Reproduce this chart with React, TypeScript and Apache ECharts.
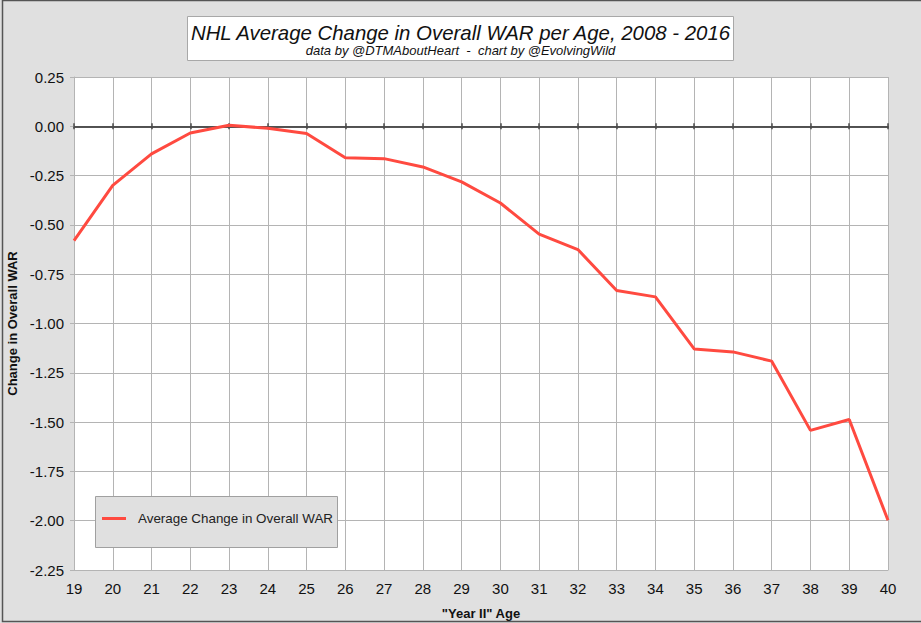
import React, { useEffect, useRef } from "react";
import * as echarts from "echarts";

const ages = ["19","20","21","22","23","24","25","26","27","28","29","30","31","32","33","34","35","36","37","38","39","40"];
const warChange = [-0.58,-0.30,-0.14,-0.034,0.005,-0.01,-0.037,-0.16,-0.164,-0.206,-0.282,-0.389,-0.547,-0.625,-0.833,-0.865,-1.129,-1.144,-1.191,-1.542,-1.487,-1.998];
const seriesName = "Average Change in Overall WAR";
const titleText = "NHL Average Change in Overall WAR per Age, 2008 - 2016";
const subtitleText = "data by @DTMAboutHeart  -  chart by @EvolvingWild";
const xName = '"Year II" Age';
const yName = "Change in Overall WAR";

const FONT = "'Liberation Sans', Arial, Helvetica, sans-serif";

export default function App() {
  const ref = useRef<HTMLDivElement>(null);
  useEffect(() => {
    if (!ref.current) return;
    const chart = echarts.init(ref.current, null, { renderer: "svg" });
    const zeroAxisBase = {
      type: "category",
      data: ages,
      boundaryGap: false,
      position: "bottom",
      axisLine: { show: true, onZero: true, onZeroAxisIndex: 0, lineStyle: { color: "#4a4a4a", width: 1.5 } },
      axisLabel: { show: false },
      splitLine: { show: false },
    };
    chart.setOption({
      animation: false,
      backgroundColor: "#e0e0e0",
      textStyle: { fontFamily: FONT },
      graphic: [
        { type: "rect", shape: { x: 2.5, y: 0.5, width: 930, height: 621 }, style: { fill: "none", stroke: "#555", lineWidth: 1.5 }, silent: true },
        { type: "rect", shape: { x: 187.5, y: 16.5, width: 546, height: 44 }, style: { fill: "#ffffff", stroke: "#a8a8a8", lineWidth: 1 }, silent: true },
        { type: "text", x: 460.5, y: 33, style: { text: titleText, fontFamily: FONT, fontSize: 20.4, fontStyle: "italic", fill: "#111", align: "center", verticalAlign: "middle" } },
        { type: "text", x: 460.5, y: 50, style: { text: subtitleText, fontFamily: FONT, fontSize: 13, fontStyle: "italic", fill: "#111", align: "center", verticalAlign: "middle" } },
        { type: "rect", shape: { x: 95.5, y: 496.5, width: 242, height: 51 }, style: { fill: "#e0e0e0", stroke: "#a0a0a0", lineWidth: 1 }, silent: true, z: 10 },
      ],
      legend: {
        show: true,
        left: 102,
        top: 512,
        padding: 0,
        z: 20,
        itemWidth: 24,
        itemHeight: 3,
        icon: "rect",
        data: [{ name: seriesName, icon: "rect" }],
        textStyle: { fontFamily: FONT, fontSize: 13.4, color: "#222", padding: [0, 0, 0, 7] },
      },
      grid: { show: true, backgroundColor: "#ffffff", borderWidth: 0, left: 74, top: 77, right: 33, bottom: 53, containLabel: false, outerBoundsMode: "none" },
      xAxis: [
        {
          type: "category",
          data: ages,
          boundaryGap: false,
          position: "bottom",
          name: xName,
          nameLocation: "middle",
          nameGap: 37,
          nameTextStyle: { fontFamily: FONT, fontSize: 13, fontWeight: "bold", color: "#111" },
          axisLine: { show: true, onZero: false, lineStyle: { color: "#b4b4b4", width: 1 } },
          axisTick: { show: false },
          axisLabel: { fontFamily: FONT, fontSize: 15, color: "#111", margin: 11, interval: 0 },
          splitLine: { show: true, lineStyle: { color: "#b4b4b4", width: 1 } },
        },
        { ...zeroAxisBase, axisTick: { show: true, inside: false, length: 3, lineStyle: { color: "#4a4a4a", width: 1.5 } } },
        { ...zeroAxisBase, axisTick: { show: true, inside: true, length: 3, lineStyle: { color: "#4a4a4a", width: 1.5 } } },
      ],
      yAxis: {
        type: "value",
        min: -2.25,
        max: 0.25,
        interval: 0.25,
        name: yName,
        nameLocation: "middle",
        nameGap: 54,
        nameTextStyle: { fontFamily: FONT, fontSize: 13, fontWeight: "bold", color: "#111" },
        axisLine: { show: true, onZero: false, lineStyle: { color: "#b4b4b4", width: 1 } },
        axisTick: { show: true, length: 4, lineStyle: { color: "#b4b4b4" } },
        axisLabel: { fontFamily: FONT, fontSize: 15, color: "#111", margin: 10, formatter: (v: number) => v.toFixed(2) },
        splitLine: { show: true, lineStyle: { color: "#b4b4b4", width: 1 } },
      },
      series: [
        {
          name: seriesName,
          type: "line",
          xAxisIndex: 0,
          data: warChange,
          showSymbol: false,
          symbol: "none",
          lineStyle: { color: "#ff4a40", width: 3 },
          itemStyle: { color: "#ff4a40" },
          z: 5,
        },
      ],
    });
    return () => chart.dispose();
  }, []);
  return <div ref={ref} style={{ position: "absolute", left: 0, top: 0, width: 921, height: 623 }} />;
}
